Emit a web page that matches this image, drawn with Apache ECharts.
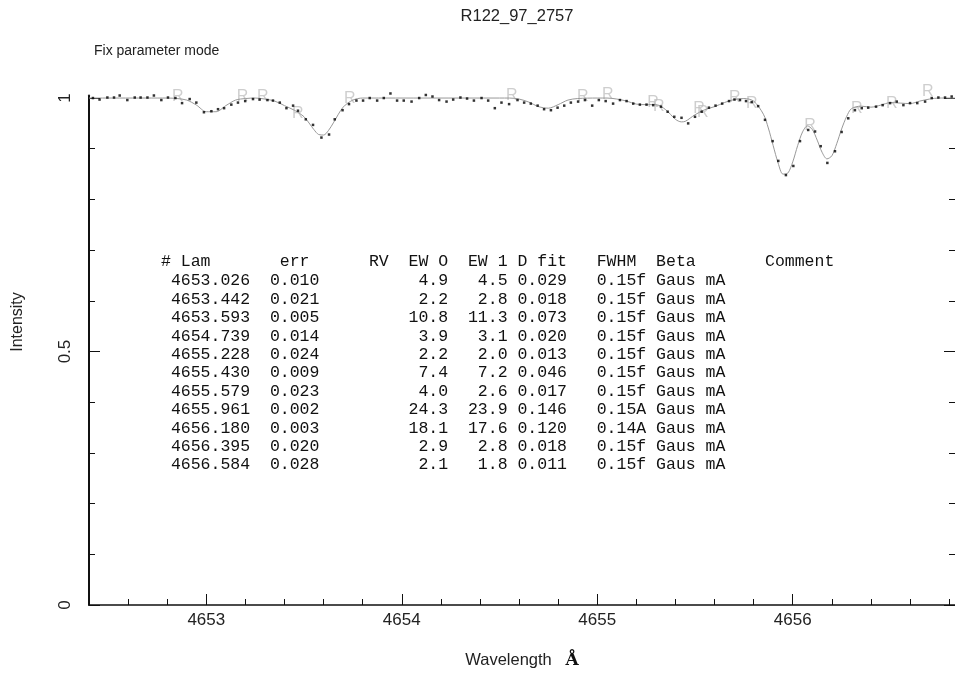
<!DOCTYPE html>
<html>
<head>
<meta charset="utf-8">
<script src="https://cdn.jsdelivr.net/npm/echarts@6/dist/echarts.min.js"></script>
<style>
  html, body { margin: 0; padding: 0; background: #fff; }
  #chart { width: 955px; height: 677px; }
</style>
</head>
<body>
<div id="chart"></div>
<script>
// observed spectrum (dots)
const obsX = [
  4652.420, 4652.454, 4652.494, 4652.528, 4652.557, 4652.596, 4652.634, 4652.664, 4652.699, 4652.732,
  4652.770, 4652.804, 4652.842, 4652.876, 4652.915, 4652.949, 4652.988, 4653.026, 4653.060, 4653.091,
  4653.128, 4653.162, 4653.199, 4653.239, 4653.273, 4653.313, 4653.341, 4653.376, 4653.410, 4653.444,
  4653.469, 4653.509, 4653.546, 4653.589, 4653.628, 4653.657, 4653.697, 4653.730, 4653.768, 4653.802,
  4653.836, 4653.874, 4653.908, 4653.942, 4653.976, 4654.010, 4654.050, 4654.089, 4654.123, 4654.157,
  4654.191, 4654.229, 4654.263, 4654.300, 4654.334, 4654.369, 4654.408, 4654.442, 4654.476, 4654.510,
  4654.549, 4654.592, 4654.626, 4654.660, 4654.695, 4654.728, 4654.763, 4654.797, 4654.831, 4654.865,
  4654.902, 4654.937, 4654.974, 4655.008, 4655.043, 4655.081, 4655.116, 4655.150, 4655.184, 4655.218,
  4655.252, 4655.286, 4655.326, 4655.360, 4655.394, 4655.431, 4655.465, 4655.500, 4655.534, 4655.571,
  4655.605, 4655.639, 4655.674, 4655.702, 4655.730, 4655.761, 4655.790, 4655.823, 4655.858, 4655.897,
  4655.926, 4655.965, 4656.003, 4656.037, 4656.079, 4656.114, 4656.143, 4656.177, 4656.216, 4656.250,
  4656.284, 4656.318, 4656.353, 4656.386, 4656.426, 4656.460, 4656.498, 4656.532, 4656.566, 4656.600,
  4656.637, 4656.677, 4656.711, 4656.745, 4656.779, 4656.813
];
const obsY = [
  1.000, 0.997, 1.001, 1.001, 1.005, 0.996, 1.001, 1.001, 1.001, 1.005,
  0.996, 1.001, 1.000, 0.990, 0.998, 0.991, 0.972, 0.974, 0.978, 0.980,
  0.987, 0.991, 0.994, 0.998, 0.997, 0.996, 0.995, 0.991, 0.980, 0.985,
  0.975, 0.958, 0.947, 0.922, 0.928, 0.958, 0.976, 0.988, 0.995, 0.995,
  1.000, 0.995, 1.000, 1.009, 0.995, 0.995, 0.993, 1.000, 1.006, 1.003,
  0.996, 0.993, 0.997, 1.001, 0.999, 0.995, 1.000, 0.995, 0.980, 0.991,
  0.988, 0.996, 0.991, 0.989, 0.985, 0.978, 0.976, 0.981, 0.985, 0.991,
  0.993, 0.996, 0.985, 0.996, 0.994, 0.989, 0.996, 0.994, 0.989, 0.987,
  0.987, 0.986, 0.983, 0.973, 0.963, 0.961, 0.950, 0.963, 0.973, 0.981,
  0.985, 0.989, 0.994, 0.997, 0.996, 0.994, 0.992, 0.984, 0.957, 0.915,
  0.876, 0.848, 0.866, 0.915, 0.937, 0.934, 0.905, 0.872, 0.895, 0.933,
  0.960, 0.976, 0.980, 0.981, 0.983, 0.986, 0.990, 0.993, 0.986, 0.990,
  0.990, 0.993, 1.000, 1.001, 1.001, 1.003
];

// fitted profile (grey curve)
const fitX = [
  4652.40, 4652.80, 4652.85, 4652.90, 4652.95, 4653.00, 4653.05, 4653.10, 4653.15, 4653.20,
  4653.25, 4653.30, 4653.35, 4653.40, 4653.45, 4653.50, 4653.55, 4653.575, 4653.60, 4653.625,
  4653.65, 4653.70, 4653.75, 4653.80, 4654.50, 4654.55, 4654.60, 4654.65, 4654.70, 4654.75,
  4654.80, 4654.85, 4654.90, 4655.00, 4655.05, 4655.10, 4655.15, 4655.20, 4655.25, 4655.30,
  4655.35, 4655.40, 4655.43, 4655.45, 4655.50, 4655.55, 4655.60, 4655.65, 4655.70, 4655.75,
  4655.80, 4655.85, 4655.875, 4655.90, 4655.925, 4655.95, 4655.975, 4656.00, 4656.025, 4656.05,
  4656.075, 4656.10, 4656.125, 4656.15, 4656.175, 4656.20, 4656.225, 4656.25, 4656.275, 4656.30,
  4656.35, 4656.40, 4656.45, 4656.50, 4656.55, 4656.60, 4656.65, 4656.70, 4656.75, 4656.83
];
const fitY = [
  1.000, 1.000, 0.999, 0.996, 0.986, 0.973, 0.973, 0.985, 0.996, 0.999,
  1.000, 0.998, 0.994, 0.985, 0.976, 0.963, 0.938, 0.928, 0.927, 0.936,
  0.951, 0.982, 0.996, 1.000, 1.000, 1.000, 0.998, 0.992, 0.983, 0.980,
  0.987, 0.996, 0.999, 1.000, 1.000, 0.998, 0.994, 0.988, 0.987, 0.987,
  0.977, 0.958, 0.953, 0.954, 0.967, 0.977, 0.983, 0.991, 0.997, 0.999,
  0.994, 0.968, 0.941, 0.906, 0.872, 0.850, 0.852, 0.874, 0.906, 0.933,
  0.945, 0.938, 0.917, 0.893, 0.880, 0.886, 0.910, 0.939, 0.963, 0.979,
  0.984, 0.982, 0.986, 0.991, 0.990, 0.989, 0.994, 0.998, 1.000, 1.000
];

// grey "R" line markers
const markX = [4652.854, 4653.186, 4653.289, 4653.468, 4653.734, 4654.563, 4654.926, 4655.054, 4655.285,
  4655.315, 4655.520, 4655.540, 4655.704, 4655.791, 4656.088, 4656.328, 4656.507, 4656.691];
const markY = [1.002, 1.002, 1.002, 0.970, 0.998, 1.004, 1.002, 1.006, 0.991,
  0.984, 0.980, 0.972, 1.000, 0.990, 0.945, 0.980, 0.990, 1.012];

// axis ticks
const majorX = [4653, 4654, 4655, 4656];
const minorX = [4652.6, 4652.8, 4653.2, 4653.4, 4653.6, 4653.8, 4654.2, 4654.4, 4654.6, 4654.8,
  4655.2, 4655.4, 4655.6, 4655.8, 4656.2, 4656.4, 4656.6, 4656.8];
const majorY = [0, 0.5, 1];
const minorY = [0.1, 0.2, 0.3, 0.4, 0.6, 0.7, 0.8, 0.9];

// line table
const lam = [4653.026, 4653.442, 4653.593, 4654.739, 4655.228, 4655.430, 4655.579, 4655.961, 4656.180, 4656.395, 4656.584];
const err = [0.010, 0.021, 0.005, 0.014, 0.024, 0.009, 0.023, 0.002, 0.003, 0.020, 0.028];
const ew0 = [4.9, 2.2, 10.8, 3.9, 2.2, 7.4, 4.0, 24.3, 18.1, 2.9, 2.1];
const ew1 = [4.5, 2.8, 11.3, 3.1, 2.0, 7.2, 2.6, 23.9, 17.6, 2.8, 1.8];
const dfit = [0.029, 0.018, 0.073, 0.020, 0.013, 0.046, 0.017, 0.146, 0.120, 0.018, 0.011];
const fwhm = ['0.15f', '0.15f', '0.15f', '0.15f', '0.15f', '0.15f', '0.15f', '0.15A', '0.14A', '0.15f', '0.15f'];

const header = '# Lam       err      RV  EW O  EW 1 D fit   FWHM  Beta       Comment';
const rows = lam.map((l, i) =>
  ' ' + l.toFixed(3) + '  ' + err[i].toFixed(3) + ew0[i].toFixed(1).padStart(13) +
  ew1[i].toFixed(1).padStart(6) + ' ' + dfit[i].toFixed(3) + '   ' + fwhm[i] + ' Gaus mA');

const mono = '16.5px "Liberation Mono", monospace';
const tableText = [{type: 'text', x: 161, y: 262, style: {text: header, font: mono, fill: '#111', verticalAlign: 'middle'}}];
rows.forEach((r, i) => {
  tableText.push({type: 'text', x: 161, y: 281 + i * 18.4, style: {text: r, font: mono, fill: '#111', verticalAlign: 'middle'}});
});

const sans = 'Liberation Sans';
const tickColor = '#111';
const xMin = 4652.4, xMax = 4656.83, yMin = 0, yMax = 1.005;

const chart = echarts.init(document.getElementById('chart'));
chart.setOption({
  animation: false,
  backgroundColor: '#fff',
  title: [
    {text: 'R122_97_2757', left: 512, top: 3, textAlign: 'center',
     textStyle: {fontFamily: sans, fontSize: 16.5, fontWeight: 'normal', color: '#222'}},
    {text: 'Fix parameter mode', left: 89, top: 39,
     textStyle: {fontFamily: sans, fontSize: 14, fontWeight: 'normal', color: '#222'}}
  ],
  grid: {left: 89, right: 0, top: 95.5, bottom: 72, outerBoundsMode: 'none'},
  xAxis: [
    {
      type: 'value', min: xMin, max: xMax, position: 'bottom',
      axisLine: {lineStyle: {color: tickColor, width: 1.5}},
      axisTick: {inside: true, length: 11, customValues: majorX, lineStyle: {color: tickColor}},
      axisLabel: {customValues: majorX, margin: 7, fontFamily: sans, fontSize: 17, color: '#222',
        formatter: (v) => String(v)},
      splitLine: {show: false},
      name: 'Wavelength   {a|Å}', nameLocation: 'middle', nameGap: 47,
      nameTextStyle: {fontFamily: sans, fontSize: 16.5, color: '#222',
        rich: {a: {fontFamily: 'DejaVu Serif', fontWeight: 'bold', fontSize: 17, color: '#111'}}}
    },
    {
      type: 'value', min: xMin, max: xMax, position: 'bottom',
      axisLine: {show: false},
      axisTick: {inside: true, length: 6, customValues: minorX, lineStyle: {color: tickColor}},
      axisLabel: {show: false},
      splitLine: {show: false}
    }
  ],
  yAxis: [
    {
      type: 'value', min: yMin, max: yMax, position: 'left',
      axisLine: {show: true, lineStyle: {color: tickColor, width: 2}},
      axisTick: {show: true, inside: true, length: 11, customValues: majorY, lineStyle: {color: tickColor}},
      axisLabel: {customValues: majorY, rotate: 90, margin: 15, fontFamily: sans, fontSize: 17, color: '#222',
        formatter: (v) => String(v)},
      splitLine: {show: false}
    },
    {
      type: 'value', min: yMin, max: yMax, position: 'left',
      axisLine: {show: false},
      axisTick: {show: true, inside: true, length: 6, customValues: minorY, lineStyle: {color: tickColor}},
      axisLabel: {show: false},
      splitLine: {show: false}
    },
    {
      type: 'value', min: yMin, max: yMax, position: 'right',
      axisLine: {show: false},
      axisTick: {show: true, inside: true, length: 11, customValues: majorY, lineStyle: {color: tickColor}},
      axisLabel: {show: false},
      splitLine: {show: false}
    },
    {
      type: 'value', min: yMin, max: yMax, position: 'right',
      axisLine: {show: false},
      axisTick: {show: true, inside: true, length: 6, customValues: minorY, lineStyle: {color: tickColor}},
      axisLabel: {show: false},
      splitLine: {show: false}
    }
  ],
  graphic: tableText.concat([
    {type: 'text', x: 18, y: 322, rotation: Math.PI / 2,
     style: {text: 'Intensity', font: '16px "Liberation Sans"', fill: '#222', align: 'center', verticalAlign: 'middle'}}
  ]),
  series: [
    {
      type: 'scatter', name: 'markers',
      data: markX.map((x, i) => [x, markY[i]]),
      symbol: 'rect', symbolSize: 1, itemStyle: {color: 'rgba(0,0,0,0)'},
      label: {show: true, position: 'inside', formatter: 'R', color: '#c2c2c2', fontFamily: sans, fontSize: 16},
      clip: false, z: 1, silent: true
    },
    {
      type: 'line', name: 'fit',
      data: fitX.map((x, i) => [x, fitY[i]]),
      showSymbol: false, smooth: 0.3,
      lineStyle: {color: '#999', width: 1},
      clip: false, z: 2, silent: true
    },
    {
      type: 'scatter', name: 'observed',
      data: obsX.map((x, i) => [x, obsY[i]]),
      symbol: 'rect', symbolSize: 2.5, itemStyle: {color: '#000'},
      clip: false, z: 3, silent: true
    }
  ]
});
</script>
</body>
</html>
